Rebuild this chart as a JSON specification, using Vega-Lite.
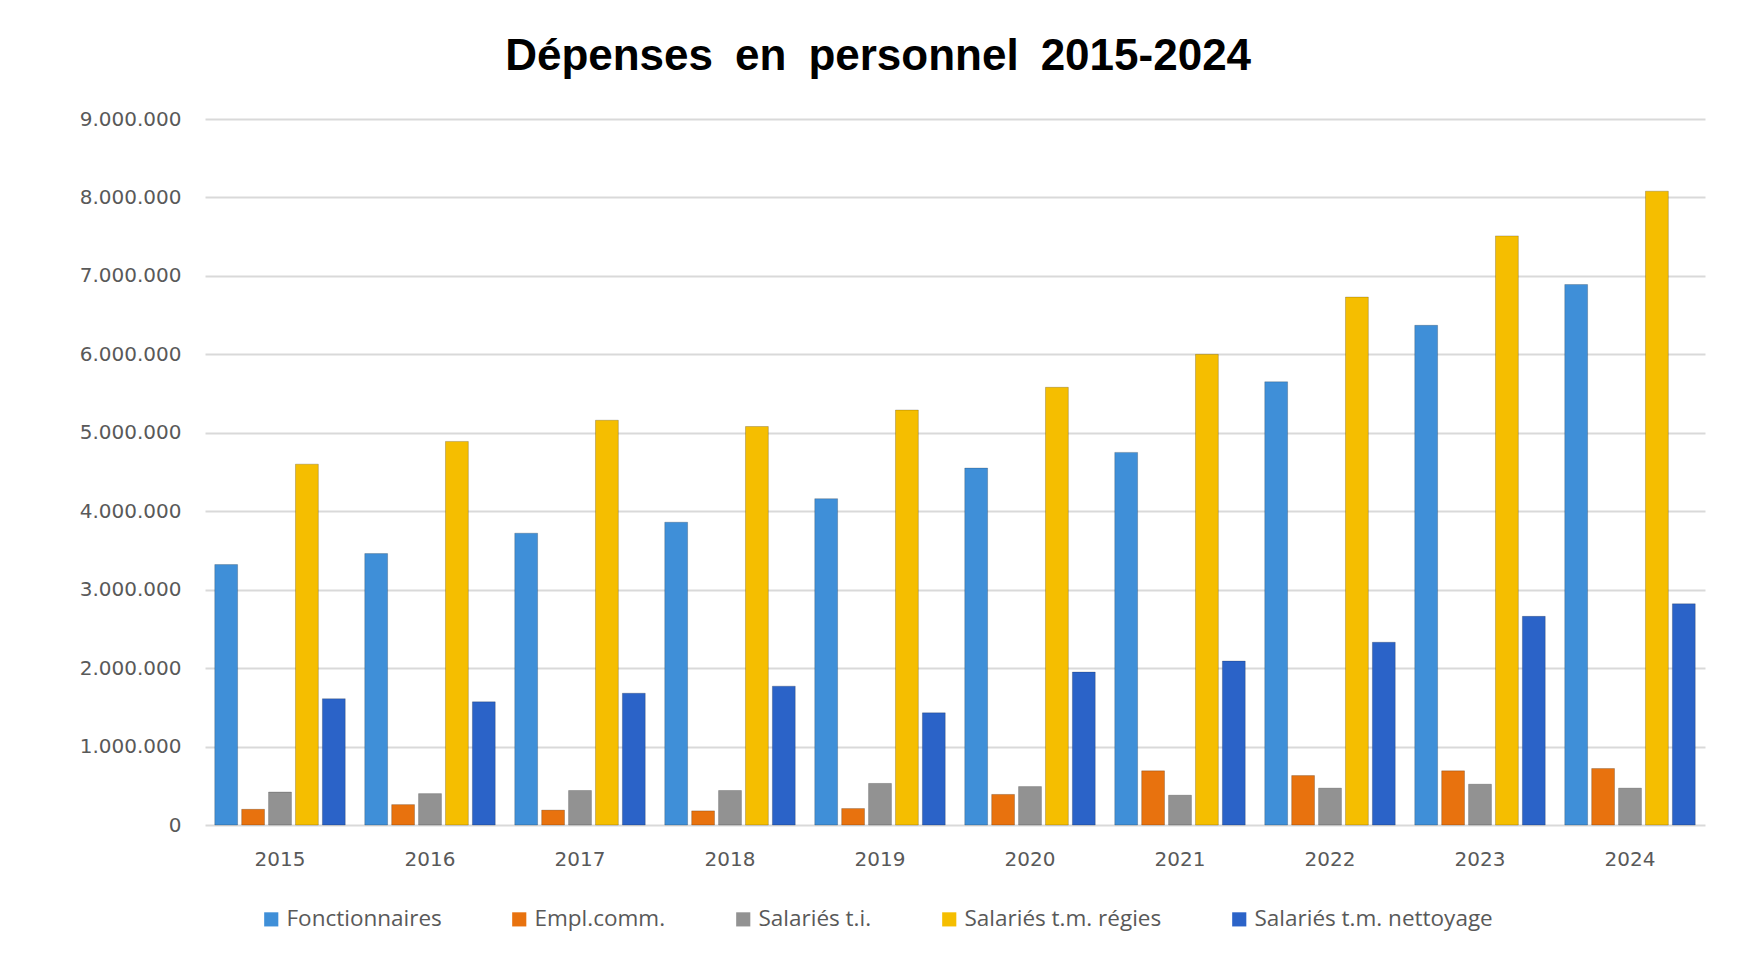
{
  "$schema": "https://vega.github.io/schema/vega-lite/v6.json",
  "width": 1500,
  "height": 706,
  "autosize": {"type": "none"},
  "padding": {"left": 205, "top": 119, "right": 37, "bottom": 152},
  "background": "white",
  "config": {
    "locale": {"number": {"decimal": ",", "thousands": ".", "grouping": [3], "currency": ["", " €"]}},
    "view": {"stroke": null}
  },
  "title": {
    "text": "Dépenses\u2002en\u2002personnel\u20022015-2024",
    "font": "Liberation Sans",
    "fontSize": 44,
    "fontWeight": "bold",
    "color": "#000000",
    "anchor": "middle",
    "frame": "bounds",
    "offset": 30,
    "dx": -14
  },
  "data": {
    "values": [
      {"year": "2015", "series": "Fonctionnaires", "value": 3320000},
      {"year": "2015", "series": "Empl.comm.", "value": 200000},
      {"year": "2015", "series": "Salariés t.i.", "value": 420000},
      {"year": "2015", "series": "Salariés t.m. régies", "value": 4600000},
      {"year": "2015", "series": "Salariés t.m. nettoyage", "value": 1610000},
      {"year": "2016", "series": "Fonctionnaires", "value": 3460000},
      {"year": "2016", "series": "Empl.comm.", "value": 260000},
      {"year": "2016", "series": "Salariés t.i.", "value": 400000},
      {"year": "2016", "series": "Salariés t.m. régies", "value": 4890000},
      {"year": "2016", "series": "Salariés t.m. nettoyage", "value": 1570000},
      {"year": "2017", "series": "Fonctionnaires", "value": 3720000},
      {"year": "2017", "series": "Empl.comm.", "value": 190000},
      {"year": "2017", "series": "Salariés t.i.", "value": 440000},
      {"year": "2017", "series": "Salariés t.m. régies", "value": 5160000},
      {"year": "2017", "series": "Salariés t.m. nettoyage", "value": 1680000},
      {"year": "2018", "series": "Fonctionnaires", "value": 3860000},
      {"year": "2018", "series": "Empl.comm.", "value": 180000},
      {"year": "2018", "series": "Salariés t.i.", "value": 440000},
      {"year": "2018", "series": "Salariés t.m. régies", "value": 5080000},
      {"year": "2018", "series": "Salariés t.m. nettoyage", "value": 1770000},
      {"year": "2019", "series": "Fonctionnaires", "value": 4160000},
      {"year": "2019", "series": "Empl.comm.", "value": 210000},
      {"year": "2019", "series": "Salariés t.i.", "value": 530000},
      {"year": "2019", "series": "Salariés t.m. régies", "value": 5290000},
      {"year": "2019", "series": "Salariés t.m. nettoyage", "value": 1430000},
      {"year": "2020", "series": "Fonctionnaires", "value": 4550000},
      {"year": "2020", "series": "Empl.comm.", "value": 390000},
      {"year": "2020", "series": "Salariés t.i.", "value": 490000},
      {"year": "2020", "series": "Salariés t.m. régies", "value": 5580000},
      {"year": "2020", "series": "Salariés t.m. nettoyage", "value": 1950000},
      {"year": "2021", "series": "Fonctionnaires", "value": 4750000},
      {"year": "2021", "series": "Empl.comm.", "value": 690000},
      {"year": "2021", "series": "Salariés t.i.", "value": 380000},
      {"year": "2021", "series": "Salariés t.m. régies", "value": 6000000},
      {"year": "2021", "series": "Salariés t.m. nettoyage", "value": 2090000},
      {"year": "2022", "series": "Fonctionnaires", "value": 5650000},
      {"year": "2022", "series": "Empl.comm.", "value": 630000},
      {"year": "2022", "series": "Salariés t.i.", "value": 470000},
      {"year": "2022", "series": "Salariés t.m. régies", "value": 6730000},
      {"year": "2022", "series": "Salariés t.m. nettoyage", "value": 2330000},
      {"year": "2023", "series": "Fonctionnaires", "value": 6370000},
      {"year": "2023", "series": "Empl.comm.", "value": 690000},
      {"year": "2023", "series": "Salariés t.i.", "value": 520000},
      {"year": "2023", "series": "Salariés t.m. régies", "value": 7510000},
      {"year": "2023", "series": "Salariés t.m. nettoyage", "value": 2660000},
      {"year": "2024", "series": "Fonctionnaires", "value": 6890000},
      {"year": "2024", "series": "Empl.comm.", "value": 720000},
      {"year": "2024", "series": "Salariés t.i.", "value": 470000},
      {"year": "2024", "series": "Salariés t.m. régies", "value": 8080000},
      {"year": "2024", "series": "Salariés t.m. nettoyage", "value": 2820000}
    ]
  },
  "mark": {"type": "bar", "stroke": "#00000033", "strokeWidth": 1},
  "encoding": {
    "x": {
      "field": "year",
      "type": "nominal",
      "scale": {"paddingInner": 0.13, "paddingOuter": 0.065},
      "axis": {
        "title": null,
        "labelAngle": 0,
        "labelFont": "DejaVu Sans",
        "labelFontSize": 20,
        "labelColor": "#595959",
        "domain": false,
        "ticks": false,
        "labelPadding": 24
      }
    },
    "xOffset": {
      "field": "series",
      "type": "nominal",
      "sort": ["Fonctionnaires", "Empl.comm.", "Salariés t.i.", "Salariés t.m. régies", "Salariés t.m. nettoyage"],
      "scale": {"paddingInner": 0.15, "paddingOuter": 0}
    },
    "y": {
      "field": "value",
      "type": "quantitative",
      "scale": {"domain": [0, 9000000], "nice": false},
      "axis": {
        "title": null,
        "values": [0, 1000000, 2000000, 3000000, 4000000, 5000000, 6000000, 7000000, 8000000, 9000000],
        "format": ",d",
        "labelFont": "DejaVu Sans",
        "labelFontSize": 20,
        "labelColor": "#595959",
        "labelPadding": 24,
        "domain": false,
        "ticks": false,
        "grid": true,
        "gridColor": "#D9D9D9",
        "gridWidth": 2
      }
    },
    "color": {
      "field": "series",
      "type": "nominal",
      "sort": ["Fonctionnaires", "Empl.comm.", "Salariés t.i.", "Salariés t.m. régies", "Salariés t.m. nettoyage"],
      "scale": {
        "domain": ["Fonctionnaires", "Empl.comm.", "Salariés t.i.", "Salariés t.m. régies", "Salariés t.m. nettoyage"],
        "range": ["#3F8FD8", "#E8720E", "#929292", "#F5BE00", "#2B63C8"]
      },
      "legend": {
        "title": null,
        "orient": "none",
        "direction": "horizontal",
        "legendX": 55,
        "legendY": 789,
        "symbolType": "square",
        "symbolSize": 200,
        "symbolStrokeWidth": 0,
        "labelFont": "Open Sans",
        "labelFontSize": 22.5,
        "labelColor": "#595959",
        "labelOffset": 4,
        "columnPadding": 66,
        "labelLimit": 400
      }
    }
  }
}
